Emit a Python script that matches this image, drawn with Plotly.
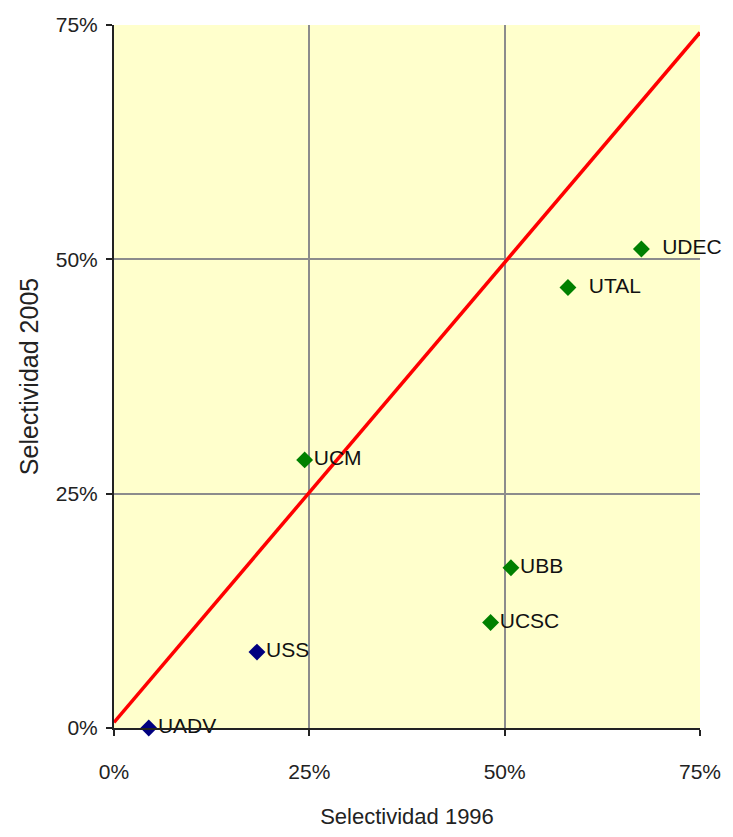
import plotly.graph_objects as go

labels = ["UADV", "USS", "UCM", "UBB", "UCSC", "UTAL", "UDEC"]
sel_1996 = [4.45, 18.3, 24.4, 50.8, 48.2, 58.1, 67.5]
sel_2005 = [0.0, 8.1, 28.6, 17.1, 11.25, 47.0, 51.1]
colors = ["#000080", "#000080", "#008000", "#008000", "#008000", "#008000", "#008000"]
label_text = ["UADV", "USS", "UCM", "UBB", "UCSC", "  UTAL", "  UDEC"]

line_x = [0, 75]
line_y = [0.6, 74.2]

tick_vals = [0, 25, 50, 75]
tick_text = ["0%", "25%", "50%", "75%"]

FONT = "Liberation Sans, Arial, sans-serif"

fig = go.Figure()
fig.add_trace(go.Scatter(
    x=line_x, y=line_y, mode="lines",
    line=dict(color="#FF0000", width=3.5),
    hoverinfo="skip", showlegend=False, cliponaxis=False,
))
fig.add_trace(go.Scatter(
    x=sel_1996, y=sel_2005, mode="markers+text",
    marker=dict(symbol="diamond", size=13, color=colors),
    text=label_text, textposition="middle right",
    textfont=dict(family=FONT, size=21, color="#111111"),
    hoverinfo="skip",
    showlegend=False, cliponaxis=False,
))

axis_common = dict(
    range=[0, 75], tickvals=tick_vals, ticktext=tick_text,
    showgrid=True, gridcolor="#8c8c8c", gridwidth=1.5,
    zeroline=False, showline=True, linecolor="#222222", linewidth=2,
    ticks="outside", ticklen=6, tickcolor="#222222", tickwidth=2,
    tickfont=dict(family=FONT, size=21, color="#222222"),
    fixedrange=True,
)

fig.update_layout(
    autosize=False,
    width=733, height=837,
    margin=dict(l=114, r=24, t=25, b=103),
    paper_bgcolor="white", plot_bgcolor="#FFFFCC",
    hovermode=False,
    xaxis=dict(**axis_common, ticklabelstandoff=18,
               title=dict(text="Selectividad 1996", standoff=26,
                          font=dict(family=FONT, size=22, color="#222222"))),
    yaxis=dict(**axis_common, ticklabelstandoff=4,
               title=dict(text="Selectividad 2005", standoff=10,
                          font=dict(family=FONT, size=25, color="#222222"))),
)

fig.write_html(
    "out.html",
    config=dict(displayModeBar=False, responsive=False),
    post_script=(
        "document.documentElement.style.margin='0';"
        "document.documentElement.style.overflow='hidden';"
        "document.body.style.margin='0';"
        "document.body.style.padding='0';"
        "document.body.style.overflow='hidden';"
    ),
)
